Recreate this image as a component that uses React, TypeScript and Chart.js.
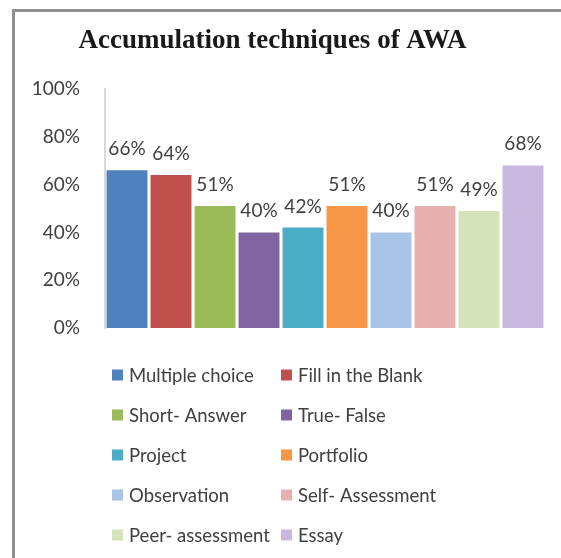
import React, { useEffect, useRef } from "react";
import { Chart, registerables } from "chart.js";

Chart.register(...registerables);

const titleText = "Accumulation techniques of AWA";
const categories = [
  "Multiple choice",
  "Fill in the Blank",
  "Short- Answer",
  "True- False",
  "Project",
  "Portfolio",
  "Observation",
  "Self- Assessment",
  "Peer- assessment",
  "Essay",
];
const values = [0.66, 0.64, 0.51, 0.4, 0.42, 0.51, 0.4, 0.51, 0.49, 0.68];
const colors = [
  "#4F81BD",
  "#C0504D",
  "#9BBB59",
  "#8064A2",
  "#4BACC6",
  "#F79646",
  "#A8C5E8",
  "#E6AFB0",
  "#D6E3BA",
  "#C8B8DD",
];
const yMin = 0;
const yMax = 1;
const yStep = 0.2;

const fmtPct = (v: number) => Math.round(v * 100) + "%";

const valueLabels = {
  id: "valueLabels",
  afterDatasetsDraw(chart: any) {
    const ctx = chart.ctx;
    ctx.save();
    ctx.font = "19px Lato";
    ctx.fillStyle = "#404040";
    ctx.textAlign = "center";
    ctx.textBaseline = "alphabetic";
    chart.data.datasets.forEach((ds: any, i: number) => {
      const meta = chart.getDatasetMeta(i);
      meta.data.forEach((el: any, j: number) => {
        const v = ds.data[j];
        if (v == null) return;
        ctx.fillText(fmtPct(v), el.x, el.y - 15);
      });
    });
    ctx.restore();
  },
};

const gridLegend = {
  id: "gridLegend",
  afterDraw(chart: any) {
    const { ctx, chartArea } = chart;
    const colX = [chartArea.left + 7, chartArea.left + 176];
    const rowY0 = chartArea.bottom + 47;
    const rowGap = 40;
    ctx.save();
    ctx.font = "18.5px Lato";
    ctx.textAlign = "left";
    ctx.textBaseline = "middle";
    chart.data.datasets.forEach((ds: any, i: number) => {
      const c = i % 2;
      const r = Math.floor(i / 2);
      const x = colX[c];
      const y = rowY0 + r * rowGap;
      ctx.fillStyle = ds.backgroundColor;
      ctx.fillRect(x, y - 5.5, 11, 11);
      ctx.fillStyle = "#404040";
      ctx.fillText(ds.label, x + 17, y + 1);
    });
    ctx.restore();
  },
};

export default function App() {
  const canvasRef = useRef<HTMLCanvasElement | null>(null);

  useEffect(() => {
    if (!canvasRef.current) return;
    const chart = new Chart(canvasRef.current, {
      type: "bar",
      data: {
        labels: [""],
        datasets: categories.map((name, i) => ({
          label: name,
          data: [values[i]],
          backgroundColor: colors[i],
          borderWidth: 0,
          categoryPercentage: 1,
          barPercentage: 0.93,
        })),
      },
      options: {
        animation: false,
        responsive: false,
        maintainAspectRatio: false,
        layout: { padding: { left: 0, right: 16, top: 0, bottom: 230 } },
        plugins: {
          legend: { display: false },
          tooltip: { enabled: false },
          title: {
            display: true,
            text: titleText,
            color: "#1a1a1a",
            font: { family: "Liberation Serif", size: 27, weight: "bold" },
            padding: { top: 24.8, bottom: 31.8 },
          },
        },
        scales: {
          x: { display: false },
          y: {
            min: yMin,
            max: yMax,
            afterFit: (scale: any) => {
              scale.width = 105;
            },
            grid: { display: false, drawTicks: false },
            border: { display: true, color: "#d9d9d9", width: 2 },
            ticks: {
              stepSize: yStep,
              padding: 25,
              color: "#404040",
              font: { family: "Lato", size: 19 },
              callback: (v: any) => fmtPct(Number(v)),
            },
          },
        },
      },
      plugins: [valueLabels, gridLegend],
    });
    return () => chart.destroy();
  }, []);

  return (
    <div style={{ position: "absolute", left: 0, top: 0, width: 561, height: 558, background: "#fff", overflow: "hidden" }}>
      <div
        style={{
          position: "absolute",
          left: 12,
          top: 9,
          right: -10,
          bottom: -10,
          borderLeft: "3px solid #8f8f8f",
          borderTop: "3px solid #8f8f8f",
        }}
      />
      <canvas ref={canvasRef} width={561} height={558} style={{ position: "absolute", left: 0, top: 0 }} />
    </div>
  );
}
